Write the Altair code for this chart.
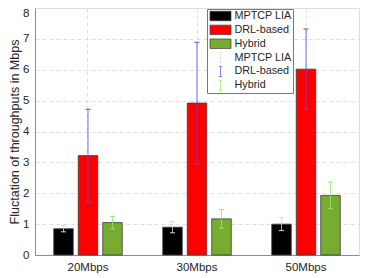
import altair as alt
import pandas as pd

categories = ["20Mbps", "30Mbps", "50Mbps"]
series = ["MPTCP LIA", "DRL-based", "Hybrid"]

mptcp_mean = [0.85, 0.90, 1.00]
mptcp_err = [0.10, 0.18, 0.21]
drl_mean = [3.22, 4.92, 6.02]
drl_err = [1.50, 1.97, 1.30]
hybrid_mean = [1.05, 1.17, 1.93]
hybrid_err = [0.20, 0.30, 0.43]

means = [mptcp_mean, drl_mean, hybrid_mean]
errs = [mptcp_err, drl_err, hybrid_err]

rows = []
for j, s in enumerate(series):
    for i, c in enumerate(categories):
        rows.append({"category": c, "series": s, "mean": means[j][i], "err": errs[j][i]})
df = pd.DataFrame(rows)

err_entries = [s + " (err)" for s in series]
entries = series + err_entries

bar_colors = ["#000000", "#ff0000", "#77ac30"]
err_colors = ["#d9d9d9", "#4d4dff", "#8fe870"]
edge = "#3a3a3a"

rect_path = "M-1,-0.45H1V0.45H-1Z"
ibar_path = "M-0.17,-0.49H0.17M0,-0.49V0.49M-0.17,0.49H0.17"

FONT = "Liberation Sans"
TXT = "#262626"

# colours of the drawn marks (domain order differs so it is not merged with the legend)
mark_scale = alt.Scale(domain=err_entries + series, range=err_colors + bar_colors)
# scales that feed the single legend
fill_scale = alt.Scale(domain=entries, range=bar_colors + err_colors)
stroke_scale = alt.Scale(domain=entries, range=[edge, edge, edge] + err_colors)
shape_scale = alt.Scale(domain=entries, range=[rect_path] * 3 + [ibar_path] * 3)

legend_def = alt.Legend(
    title=None,
    orient="none",
    legendX=172,
    legendY=1,
    padding=1,
    strokeColor="#7a7a7a",
    fillColor="#ffffff",
    labelFont=FONT,
    labelFontSize=10.8,
    labelColor=TXT,
    labelExpr="replace(datum.label, ' (err)', '')",
    symbolSize=441,
    symbolStrokeWidth=0.7,
    symbolOpacity=1,
    symbolOffset=1.5,
    labelOffset=3,
    clipHeight=12,
    rowPadding=1.86,
)

x_axis = alt.Axis(
    title=None,
    labelAngle=0,
    labelFont=FONT,
    labelFontSize=11.5,
    labelColor=TXT,
    labelPadding=6,
    ticks=False,
    tickSize=0,
    domainColor="#8c8c8c",
    domainWidth=1,
    grid=True,
    gridColor="#dedede",
    gridDash=[4, 3],
    gridWidth=1,
)
x_enc = alt.X(
    "category:N",
    sort=categories,
    scale=alt.Scale(paddingInner=0.3257, paddingOuter=0.149),
    axis=x_axis,
)
xoff_enc = alt.XOffset(
    "series:N", sort=series, scale=alt.Scale(paddingInner=0.204, paddingOuter=0.102)
)
y_scale = alt.Scale(domain=[0, 8], nice=False, zero=True)
y_axis = alt.Axis(
    values=[0, 1, 2, 3, 4, 5, 6, 7, 8],
    title="Fluctation of throughputs in Mbps",
    titleFont=FONT,
    titleFontSize=12.5,
    titleFontWeight="normal",
    titleColor=TXT,
    titleX=-14,
    labelFont=FONT,
    labelFontSize=11.5,
    labelColor=TXT,
    labelPadding=6,
    labelOverlap=False,
    labelOffset=alt.condition("datum.value == 8", alt.value(5), alt.value(0)),
    ticks=False,
    tickSize=0,
    domainColor="#8c8c8c",
    domainWidth=1,
    grid=True,
    gridColor="#dedede",
    gridDash=[4, 3],
    gridWidth=1,
)

base = alt.Chart(df)

bars = base.mark_bar(stroke=edge, strokeWidth=0.8).encode(
    x=x_enc,
    xOffset=xoff_enc,
    y=alt.Y("mean:Q", scale=y_scale, axis=y_axis),
    color=alt.Color("series:N", scale=mark_scale, legend=None),
)

err_base = base.transform_calculate(
    lo="datum.mean - datum.err",
    hi="datum.mean + datum.err",
    entry="datum.series + ' (err)'",
)

rules = err_base.mark_rule(strokeWidth=0.8).encode(
    x=x_enc,
    xOffset=xoff_enc,
    y=alt.Y("lo:Q", scale=y_scale, axis=y_axis),
    y2="hi:Q",
    color=alt.Color("entry:N", scale=mark_scale, legend=None),
)

caps_lo = err_base.mark_tick(orient="horizontal", size=5, thickness=1, opacity=1).encode(
    x=x_enc,
    xOffset=xoff_enc,
    y=alt.Y("lo:Q", scale=y_scale, axis=y_axis),
    color=alt.Color("entry:N", scale=mark_scale, legend=None),
)
caps_hi = err_base.mark_tick(orient="horizontal", size=5, thickness=1, opacity=1).encode(
    x=x_enc,
    xOffset=xoff_enc,
    y=alt.Y("hi:Q", scale=y_scale, axis=y_axis),
    color=alt.Color("entry:N", scale=mark_scale, legend=None),
)

# legend-only layer: its points are invisible, only the legend it creates shows
legend_layer = base.transform_calculate(entry="datum.series + ' (err)'").mark_point(
    filled=True, strokeWidth=0.7
).encode(
    fill=alt.Fill("entry:N", scale=fill_scale, legend=legend_def),
    stroke=alt.Stroke("entry:N", scale=stroke_scale, legend=legend_def),
    shape=alt.Shape("entry:N", scale=shape_scale, legend=legend_def),
    opacity=alt.value(0),
)

chart = (
    alt.layer(bars, rules, caps_lo, caps_hi, legend_layer)
    .properties(
        width=324,
        height=247,
        padding={"left": 27, "top": 0, "right": 4, "bottom": 18},
        autosize=alt.AutoSizeParams(type="none"),
    )
    .configure_view(stroke="#8c8c8c", strokeWidth=1)
    .configure(background="#ffffff")
)

chart.save("out.html", embed_options={"renderer": "svg", "actions": False})
